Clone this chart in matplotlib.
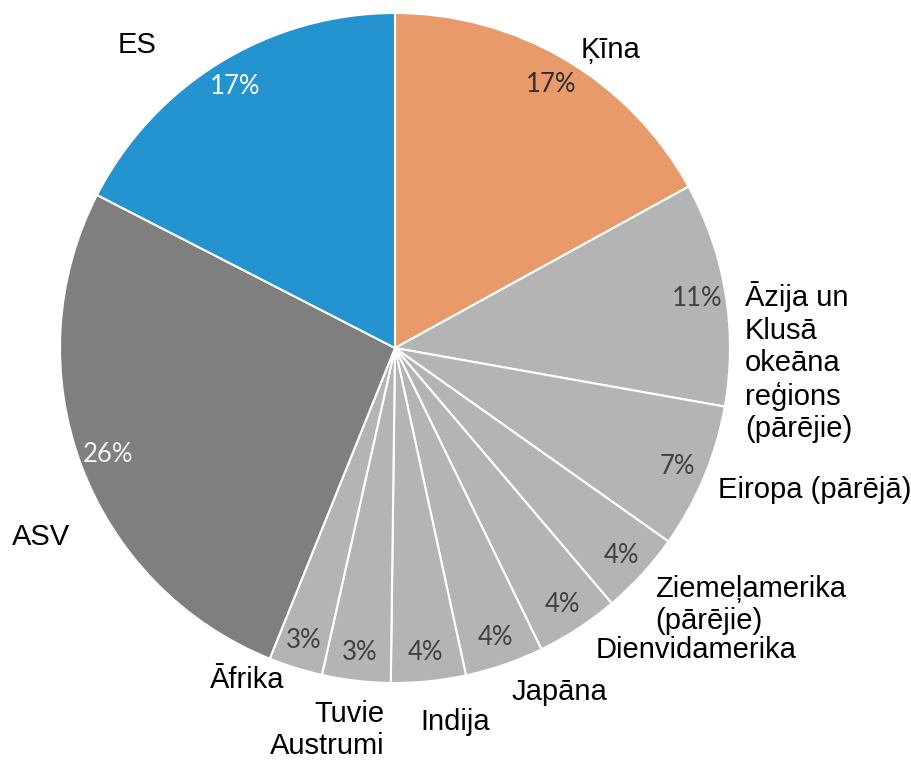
import matplotlib
matplotlib.use("Agg")
import matplotlib.pyplot as plt

# Shares by region (percent), clockwise from top
regions = ["Ķīna", "Āzija un\nKlusā\nokeāna\nreģions\n(pārējie)", "Eiropa (pārējā)",
           "Ziemeļamerika\n(pārējie)", "Dienvidamerika", "Japāna", "Indija",
           "Tuvie\nAustrumi", "Āfrika", "ASV", "ES"]
shares = [17.0, 10.8, 7.0, 4.0, 4.0, 3.8, 3.6, 3.3, 2.6, 26.45, 17.45]

orange = "#E89A6A"
grey = "#B4B4B4"
dark_grey = "#7F7F7F"
blue = "#2394CF"
colors = [orange, grey, grey, grey, grey, grey, grey, grey, grey, dark_grey, blue]
pct_colors = ["#2E2E2E"] + ["#404040"] * 8 + ["#F2F2F2", "#FFFFFF"]

# label placement in data units (pie radius = 1): x, y, horizontal alignment
label_pos = [(0.642, 0.890, "center"), (1.045, -0.042, "left"), (0.964, -0.424, "left"),
             (0.776, -0.767, "left"), (0.600, -0.901, "left"), (0.349, -1.027, "left"),
             (0.075, -1.116, "left"), (-0.030, -1.140, "right"), (-0.331, -0.991, "right"),
             (-0.970, -0.564, "right"), (-0.770, 0.904, "center")]

fig = plt.figure(figsize=(9.12, 7.63), dpi=100)
ax = fig.add_axes([0, 0, 1, 1])

wedges, texts, autotexts = ax.pie(shares, colors=colors, startangle=90, counterclock=False,
                                  autopct="%.0f%%", pctdistance=0.915,
                                  wedgeprops=dict(edgecolor="white", linewidth=1.5),
                                  textprops=dict(family="Lato", fontsize=18.5))
for t, c in zip(autotexts, pct_colors):
    t.set_color(c)

for name, (x, y, ha) in zip(regions, label_pos):
    ax.text(x, y, name, ha=ha, va="center", multialignment=ha,
            family=["Liberation Sans", "DejaVu Sans"], fontsize=21, color="black")

ax.set_xlim(-395 / 335, (912 - 395) / 335)
ax.set_ylim(-415 / 335, 348 / 335)
ax.set_aspect("equal")
ax.axis("off")

fig.savefig("out.png", dpi=100)
